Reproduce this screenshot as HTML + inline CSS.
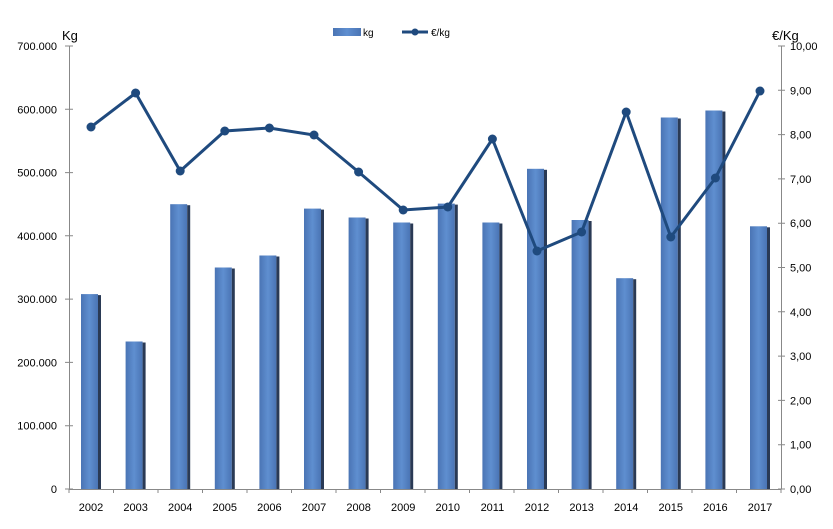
<!DOCTYPE html><html><head><style>body{margin:0;background:#fff}svg{font-family:"Liberation Sans",sans-serif;font-size:11px}</style></head><body>
<svg width="833" height="524" xmlns="http://www.w3.org/2000/svg">
<defs><linearGradient id="g" x1="0" x2="1"><stop offset="0" stop-color="#4a74b4"/><stop offset="0.5" stop-color="#5f8fd0"/><stop offset="1" stop-color="#4a74b4"/></linearGradient></defs>
<g stroke="#888" stroke-width="1">
<line x1="69.5" y1="46" x2="69.5" y2="489"/><line x1="69" y1="489.5" x2="781" y2="489.5"/><line x1="781.5" y1="46" x2="781.5" y2="489"/>
<path d="M65 489H73M65 425.7H73M65 362.4H73M65 299.1H73M65 235.8H73M65 172.6H73M65 109.3H73M65 46H73"/>
<path d="M778 489H785M778 444.7H785M778 400.4H785M778 356.1H785M778 311.8H785M778 267.5H785M778 223.2H785M778 178.9H785M778 134.6H785M778 90.3H785M778 46H785"/>
<path d="M69 489V493M113.5 489V493M158 489V493M202.5 489V493M247 489V493M291.5 489V493M336 489V493M380.5 489V493M425 489V493M469.5 489V493M514 489V493M558.5 489V493M603 489V493M647.5 489V493M692 489V493M736.5 489V493M781 489V493"/>
</g>
<g text-anchor="end">
<text x="57" y="493">0</text><text x="57" y="429.7">100.000</text><text x="57" y="366.4">200.000</text><text x="57" y="303.1">300.000</text><text x="57" y="239.8">400.000</text><text x="57" y="176.6">500.000</text><text x="57" y="113.3">600.000</text><text x="57" y="50">700.000</text>
</g>
<g>
<text x="790" y="493">0,00</text><text x="790" y="448.7">1,00</text><text x="790" y="404.4">2,00</text><text x="790" y="360.1">3,00</text><text x="790" y="315.8">4,00</text><text x="790" y="271.5">5,00</text><text x="790" y="227.2">6,00</text><text x="790" y="182.9">7,00</text><text x="790" y="138.6">8,00</text><text x="790" y="94.3">9,00</text><text x="790" y="50">10,00</text>
</g>
<g fill="url(#g)">
<rect x="81" y="294.1" width="17" height="194.9"/>
<rect x="125.6" y="341.5" width="17" height="147.5"/>
<rect x="170.2" y="204.2" width="17" height="284.8"/>
<rect x="214.8" y="267.5" width="17" height="221.5"/>
<rect x="259.4" y="255.5" width="17" height="233.5"/>
<rect x="304" y="208.6" width="17" height="280.4"/>
<rect x="348.6" y="217.5" width="17" height="271.5"/>
<rect x="393.2" y="222.5" width="17" height="266.5"/>
<rect x="437.8" y="203.6" width="17" height="285.4"/>
<rect x="482.4" y="222.5" width="17" height="266.5"/>
<rect x="527" y="168.8" width="17" height="320.2"/>
<rect x="571.6" y="220" width="17" height="269"/>
<rect x="616.2" y="278.2" width="17" height="210.8"/>
<rect x="660.8" y="117.5" width="17" height="371.5"/>
<rect x="705.4" y="110.5" width="17" height="378.5"/>
<rect x="750" y="226.3" width="17" height="262.7"/>
</g>
<g fill="#2a3a55">
<rect x="98" y="295.1" width="3" height="193.9"/>
<rect x="142.6" y="342.5" width="3" height="146.5"/>
<rect x="187.2" y="205.2" width="3" height="283.8"/>
<rect x="231.8" y="268.5" width="3" height="220.5"/>
<rect x="276.4" y="256.5" width="3" height="232.5"/>
<rect x="321" y="209.6" width="3" height="279.4"/>
<rect x="365.6" y="218.5" width="3" height="270.5"/>
<rect x="410.2" y="223.5" width="3" height="265.5"/>
<rect x="454.8" y="204.6" width="3" height="284.4"/>
<rect x="499.4" y="223.5" width="3" height="265.5"/>
<rect x="544" y="169.8" width="3" height="319.2"/>
<rect x="588.6" y="221" width="3" height="268"/>
<rect x="633.2" y="279.2" width="3" height="209.8"/>
<rect x="677.8" y="118.5" width="3" height="370.5"/>
<rect x="722.4" y="111.5" width="3" height="377.5"/>
<rect x="767" y="227.3" width="3" height="261.7"/>
</g>
<polyline points="91,127 135.6,93 180.2,171 224.8,131 269.4,128 314,135 358.6,172 403.2,210 447.8,207 492.4,139 537,251 581.6,232 626.2,112 670.8,237 715.4,178 760,91" fill="none" stroke="#1f4a7e" stroke-width="3"/>
<g fill="#1f4a7e">
<circle cx="91" cy="127" r="4.5"/><circle cx="135.6" cy="93" r="4.5"/><circle cx="180.2" cy="171" r="4.5"/><circle cx="224.8" cy="131" r="4.5"/><circle cx="269.4" cy="128" r="4.5"/><circle cx="314" cy="135" r="4.5"/><circle cx="358.6" cy="172" r="4.5"/><circle cx="403.2" cy="210" r="4.5"/><circle cx="447.8" cy="207" r="4.5"/><circle cx="492.4" cy="139" r="4.5"/><circle cx="537" cy="251" r="4.5"/><circle cx="581.6" cy="232" r="4.5"/><circle cx="626.2" cy="112" r="4.5"/><circle cx="670.8" cy="237" r="4.5"/><circle cx="715.4" cy="178" r="4.5"/><circle cx="760" cy="91" r="4.5"/>
</g>
<g text-anchor="middle">
<text x="91" y="511">2002</text><text x="135.6" y="511">2003</text><text x="180.2" y="511">2004</text><text x="224.8" y="511">2005</text><text x="269.4" y="511">2006</text><text x="314" y="511">2007</text><text x="358.6" y="511">2008</text><text x="403.2" y="511">2009</text><text x="447.8" y="511">2010</text><text x="492.4" y="511">2011</text><text x="537" y="511">2012</text><text x="581.6" y="511">2013</text><text x="626.2" y="511">2014</text><text x="670.8" y="511">2015</text><text x="715.4" y="511">2016</text><text x="760" y="511">2017</text>
</g>
<text x="62" y="40" font-size="13">Kg</text><text x="772" y="40" font-size="13">€/Kg</text>
<rect x="333" y="28" width="28" height="8" fill="url(#g)"/><text x="363" y="36" font-size="10">kg</text>
<line x1="402" y1="32" x2="428" y2="32" stroke="#1f4a7e" stroke-width="3"/><circle cx="415" cy="32" r="3.5" fill="#1f4a7e"/><text x="431" y="36" font-size="10">€/kg</text>
</svg></body></html>
